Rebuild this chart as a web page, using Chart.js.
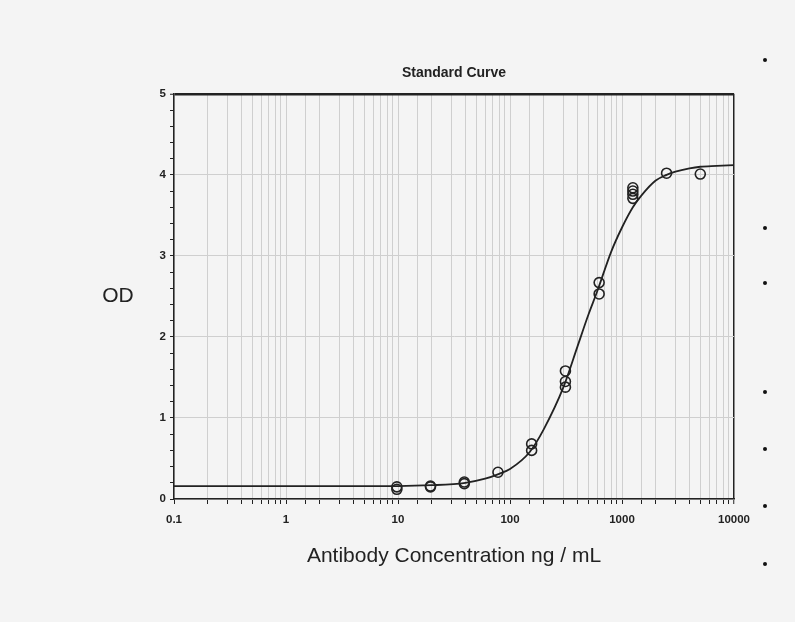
<!DOCTYPE html>
<html>
<head>
<meta charset="utf-8">
<script src="https://cdn.jsdelivr.net/npm/chart.js"></script>
<style>
  body { margin: 0; background: #f4f4f4; }
  #wrap { position: relative; width: 795px; height: 622px; }
  .dot { position: absolute; left: 763px; width: 4px; height: 4px; border-radius: 50%; background: #111; }
</style>
</head>
<body>
<div id="wrap">
  <canvas id="curveChart" width="795" height="622"></canvas>
  <div class="dot" style="top:58px"></div>
  <div class="dot" style="top:226px"></div>
  <div class="dot" style="top:281px"></div>
  <div class="dot" style="top:390px"></div>
  <div class="dot" style="top:447px"></div>
  <div class="dot" style="top:504px"></div>
  <div class="dot" style="top:562px"></div>
</div>
<script>
// measured standards (ng/mL, OD)
var concentrations = [9.77, 9.77, 19.5, 19.5, 39.1, 39.1, 78.1, 156, 156, 312.5, 312.5, 312.5, 625, 625, 1250, 1250, 1250, 1250, 2500, 5000];
var odValues = [0.12, 0.15, 0.15, 0.16, 0.19, 0.21, 0.33, 0.6, 0.68, 1.38, 1.45, 1.58, 2.53, 2.67, 3.71, 3.76, 3.8, 3.84, 4.02, 4.01];

// fitted curve
var curveConc = [0.1, 1, 10, 20, 40, 60, 80, 100, 150, 200, 300, 400, 500, 600, 800, 1000, 1250, 1500, 2000, 2500, 3000, 4000, 5000, 7000, 10000];
var curveOD = [0.16, 0.16, 0.16, 0.17, 0.2, 0.25, 0.31, 0.37, 0.58, 0.86, 1.38, 1.88, 2.27, 2.56, 3.05, 3.35, 3.6, 3.75, 3.93, 4.0, 4.04, 4.08, 4.1, 4.11, 4.12];

var xLabels = ['0.1', '1', '10', '100', '1000', '10000'];

var tickFont = { family: "'Liberation Sans', Arial, sans-serif", size: 11.5, weight: 'bold' };
var ink = '#222';

function isDecade(v) {
  var l = Math.log10(v);
  return Math.abs(l - Math.round(l)) < 1e-9;
}

var odLabel = {
  id: 'odLabel',
  afterDraw: function(chart) {
    var c = chart.ctx, a = chart.chartArea;
    c.save();
    c.font = "21px 'Liberation Sans', Arial, sans-serif";
    c.fillStyle = ink;
    c.textAlign = 'center';
    c.textBaseline = 'middle';
    c.fillText('OD', 118, (a.top + a.bottom) / 2);
    c.restore();
  }
};

var ctx = document.getElementById('curveChart').getContext('2d');
var curveChart = new Chart(ctx, {
  type: 'scatter',
  data: {
    datasets: [
      {
        label: 'Fit',
        data: curveConc.map(function(x, i) { return { x: x, y: curveOD[i] }; }),
        showLine: true,
        pointRadius: 0,
        borderColor: ink,
        borderWidth: 1.8,
        cubicInterpolationMode: 'monotone'
      },
      {
        label: 'Standards',
        data: concentrations.map(function(x, i) { return { x: x, y: odValues[i] }; }),
        pointRadius: 5,
        pointBorderWidth: 1.6,
        borderColor: ink,
        backgroundColor: 'rgba(0,0,0,0)'
      }
    ]
  },
  options: {
    responsive: false,
    animation: false,
    layout: { padding: { left: 0, right: 61, top: 0, bottom: 0 } },
    plugins: {
      legend: { display: false },
      tooltip: { enabled: false },
      title: {
        display: true,
        text: 'Standard Curve',
        fullSize: false,
        color: ink,
        font: { family: "'Liberation Sans', Arial, sans-serif", size: 14, weight: 'bold' },
        padding: { top: 65, bottom: 12 }
      }
    },
    scales: {
      x: {
        type: 'logarithmic',
        min: 0.1,
        max: 10000,
        afterFit: function(s) { s.height = 123; },
        border: { color: ink, width: 1.5 },
        grid: {
          color: function(c) { return c.tick && c.tick.value === 10000 ? ink : '#cfcfcf'; },
          lineWidth: function(c) { return c.tick && c.tick.value === 10000 ? 1.5 : 1; },
          tickColor: ink,
          tickLength: 5,
          tickWidth: 1
        },
        ticks: {
          autoSkip: false,
          maxRotation: 0,
          padding: 9,
          color: ink,
          font: tickFont,
          callback: function(v) {
            if (!isDecade(v)) return '';
            return xLabels[Math.round(Math.log10(v)) + 1];
          }
        },
        title: {
          display: true,
          text: 'Antibody Concentration ng / mL',
          color: ink,
          font: { family: "'Liberation Sans', Arial, sans-serif", size: 21 },
          padding: { top: 0, bottom: 53 }
        }
      },
      y: {
        min: 0,
        max: 5,
        afterFit: function(s) { s.width = 174; },
        border: { color: ink, width: 1.5 },
        grid: {
          color: function(c) {
            var v = c.tick ? c.tick.value : 0;
            if (Math.abs(v - 5) < 1e-6) return ink;
            return Math.abs(v - Math.round(v)) < 1e-6 ? '#cfcfcf' : 'rgba(0,0,0,0)';
          },
          lineWidth: function(c) { return c.tick && Math.abs(c.tick.value - 5) < 1e-6 ? 2.5 : 1; },
          tickColor: ink,
          tickLength: 4,
          tickWidth: 1
        },
        ticks: {
          stepSize: 0.2,
          autoSkip: false,
          padding: 4,
          color: ink,
          font: tickFont,
          callback: function(v) {
            return Math.abs(v - Math.round(v)) < 1e-6 ? String(Math.round(v)) : '';
          }
        }
      }
    }
  },
  plugins: [odLabel]
});
</script>
</body>
</html>
